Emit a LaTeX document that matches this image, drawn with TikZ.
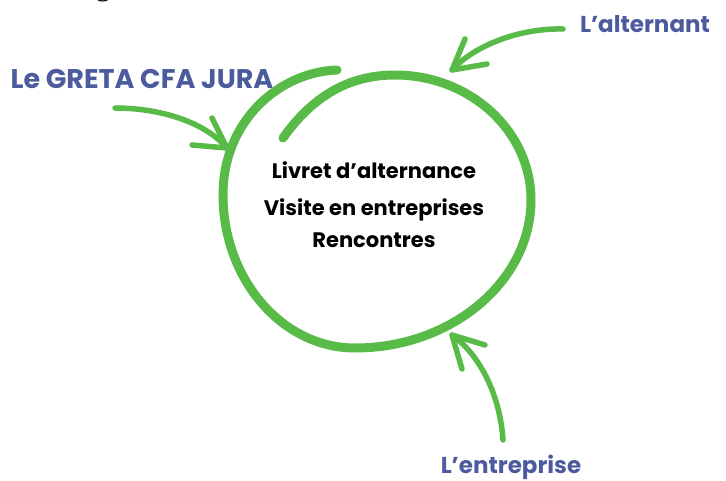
\documentclass[tikz,border=0pt]{standalone}
\usepackage{fontspec}
\setmainfont{Poppins}
\newfontfamily\serifpart{Liberation Serif}
\definecolor{loopgreen}{HTML}{58BB47}
\definecolor{labelblue}{HTML}{4B5B9E}
\begin{document}
\begin{tikzpicture}[x=1pt,y=-1pt,
  loopline/.style={draw=loopgreen, line width=9pt, line cap=round, line join=round},
  arrowline/.style={draw=loopgreen, line width=5.5pt, line cap=round, line join=round},
  actor/.style={text=labelblue, font=\bfseries\fontsize{23}{27}\selectfont, inner sep=0pt, anchor=base},
  centerline/.style={text=black, font=\bfseries\fontsize{21}{25}\selectfont, inner sep=0pt, anchor=base}]
\useasboundingbox (0,0) rectangle (726,480);
\clip (0,0) rectangle (726,480);
\fill[white] (0,0) rectangle (726,480);
% cut-off heading letter at the top edge
\node[anchor=base, inner sep=0pt, font=\serifpart\fontsize{30}{30}\selectfont] (cut) at (103,-5) {g};
% central loop
\draw[loopline] (283,138) .. controls (310,100) and (345,75) .. (395,75)
  .. controls (470,75) and (531,131) .. (531,200)
  .. controls (531,281) and (452,348) .. (355,348)
  .. controls (282,348) and (223,279) .. (223,195)
  .. controls (223,120) and (280,72) .. (337,70);
% central text
\node[centerline] (l1) at (374,178) {Livret d’alternance};
\node[centerline] (l2) at (374,215) {Visite en entreprises};
\node[centerline] (l3) at (374,247) {Rencontres};
% labels
\node[actor, font=\bfseries\fontsize{27}{30}\selectfont] (greta) at (142,88) {Le GRETA CFA JURA};
\node[actor] (alt) at (645,32) {L’alternant};
\node[actor] (ent) at (511,473) {L’entreprise};
% arrow coordinates
\coordinate (gS) at (115,108); \coordinate (gT) at (227,148);
\coordinate (gB1) at (212,118); \coordinate (gB2) at (192,145);
\coordinate (aS) at (563,29); \coordinate (aT) at (452,70);
\coordinate (aB1) at (465,39); \coordinate (aB2) at (487,64);
\coordinate (eS) at (503,440); \coordinate (eT) at (452,335);
\coordinate (eB1) at (462,369); \coordinate (eB2) at (485,345);
% arrows
\draw[arrowline] (gS) .. controls (160,108) and (205,122) .. (gT);
\draw[arrowline] (gB1) -- (gT) -- (gB2);
\draw[arrowline] (aS) .. controls (520,28) and (475,45) .. (aT);
\draw[arrowline] (aB1) -- (aT) -- (aB2);
\draw[arrowline] (eS) .. controls (500,395) and (480,355) .. (eT);
\draw[arrowline] (eB1) -- (eT) -- (eB2);
\end{tikzpicture}
\end{document}
